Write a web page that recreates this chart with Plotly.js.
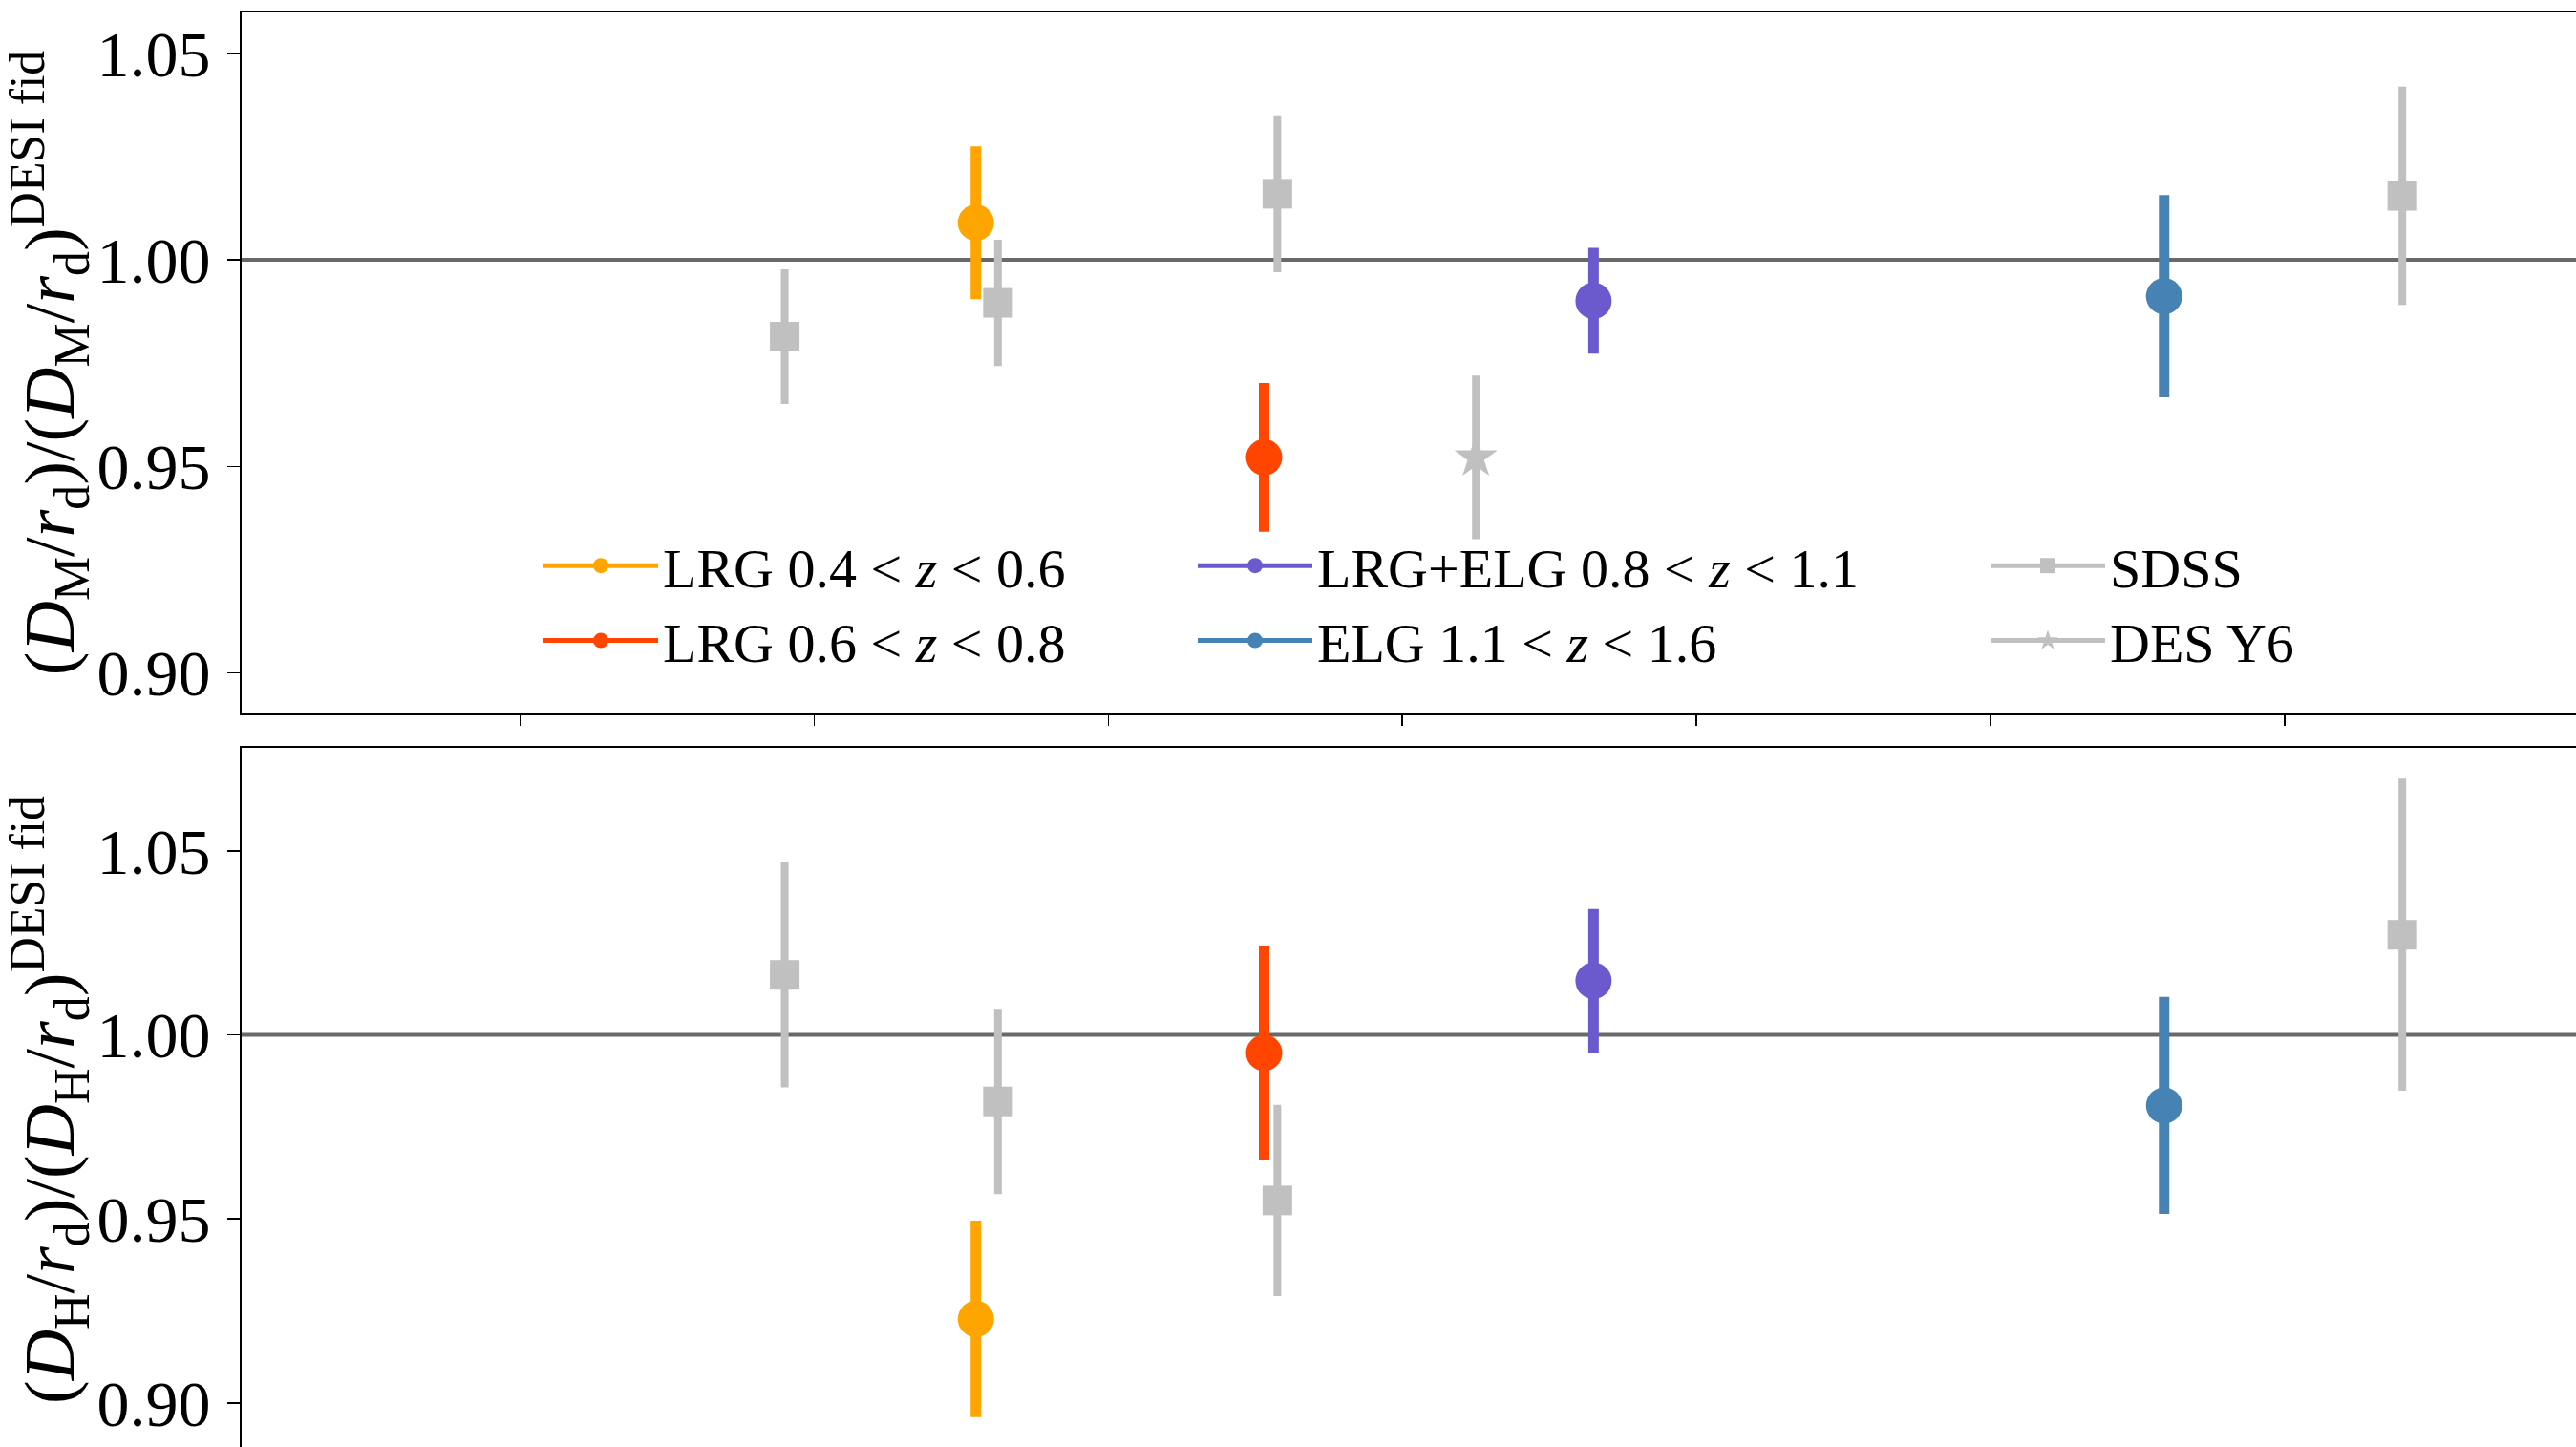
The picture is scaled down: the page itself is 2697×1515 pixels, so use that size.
<!DOCTYPE html>
<html>
<head>
<meta charset="utf-8">
<script src="https://cdn.plot.ly/plotly-3.0.1.min.js"></script>
<style>
html, body { margin: 0; padding: 0; overflow: hidden; background: #ffffff; }
#chart { width: 2697px; height: 1560px; }
</style>
</head>
<body>
<div id="chart"></div>
<script>
// ---------------- data ----------------
const desiNames  = ['LRG 0.4 &lt; <i>z</i> &lt; 0.6', 'LRG 0.6 &lt; <i>z</i> &lt; 0.8',
                    'LRG+ELG 0.8 &lt; <i>z</i> &lt; 1.1', 'ELG 1.1 &lt; <i>z</i> &lt; 1.6'];
const desiColors = ['#FFA500', '#FF4500', '#6A5ACD', '#4682B4'];
const desiZ      = [0.510, 0.706, 0.930, 1.318];
const desiDM     = [1.0090, 0.9522, 0.9901, 0.9912];
const desiDMerr  = [0.0185, 0.0180, 0.0128, 0.0245];
const desiDH     = [0.9228, 0.9951, 1.0147, 0.9808];
const desiDHerr  = [0.0267, 0.0292, 0.0195, 0.0295];

const sdssName   = 'SDSS';
const sdssZ      = [0.380, 0.525, 0.715, 1.480];
const sdssDM     = [0.9814, 0.9896, 1.0160, 1.0155];
const sdssDMerr  = [0.0163, 0.0153, 0.0190, 0.0264];
const sdssDH     = [1.0163, 0.9819, 0.9550, 1.0272];
const sdssDHerr  = [0.0306, 0.0252, 0.0260, 0.0424];

const desName    = 'DES Y6';
const desZ       = [0.850];
const desDM      = [0.9522];
const desDMerr   = [0.0198];

const xTicks     = [0.2, 0.4, 0.6, 0.8, 1.0, 1.2, 1.4];
const yTicks     = [0.90, 0.95, 1.00, 1.05];
const yTickText  = ['0.90', '0.95', '1.00', '1.05'];
const grey       = '#C0C0C0';

// ---------------- geometry (pixels) ----------------
const W = 2697, H = 1560;
const L = 253, T = 13, B = 40, R = 0;
const plotW = W - L - R, plotH = H - T - B;
const pyTop = (py) => (H - B - py) / plotH;     // pixel y -> paper y
const pxX = (px) => (px - L) / plotW;           // pixel x -> paper x

const FONT = 'Liberation Serif, Times New Roman, serif';

const traces = [];
// DESI tracers
desiNames.forEach((name, i) => {
  traces.push({
    x: [desiZ[i]], y: [desiDM[i]], xaxis: 'x', yaxis: 'y',
    type: 'scatter', mode: 'markers', showlegend: false,
    marker: { color: desiColors[i], size: 38, symbol: 'circle', line: { width: 0 } },
    error_y: { type: 'data', array: [desiDMerr[i]], visible: true, color: desiColors[i], thickness: 11, width: 0 }
  });
  traces.push({
    x: [desiZ[i]], y: [desiDH[i]], xaxis: 'x2', yaxis: 'y2',
    type: 'scatter', mode: 'markers', showlegend: false,
    marker: { color: desiColors[i], size: 38, symbol: 'circle', line: { width: 0 } },
    error_y: { type: 'data', array: [desiDHerr[i]], visible: true, color: desiColors[i], thickness: 11, width: 0 }
  });
});
// SDSS
traces.push({
  x: sdssZ, y: sdssDM, xaxis: 'x', yaxis: 'y', type: 'scatter', mode: 'markers', showlegend: false,
  marker: { color: grey, size: 31, symbol: 'square', line: { width: 0 } },
  error_y: { type: 'data', array: sdssDMerr, visible: true, color: grey, thickness: 8, width: 0 }
});
traces.push({
  x: sdssZ, y: sdssDH, xaxis: 'x2', yaxis: 'y2', type: 'scatter', mode: 'markers', showlegend: false,
  marker: { color: grey, size: 31, symbol: 'square', line: { width: 0 } },
  error_y: { type: 'data', array: sdssDHerr, visible: true, color: grey, thickness: 8, width: 0 }
});
// DES Y6
traces.push({
  x: desZ, y: desDM, xaxis: 'x', yaxis: 'y', type: 'scatter', mode: 'markers', showlegend: false,
  marker: { color: grey, size: 34, symbol: 'star', line: { width: 0 } },
  error_y: { type: 'data', array: desDMerr, visible: true, color: grey, thickness: 8, width: 0 }
});

// Legend entries (one per series, arranged as three columns)
const legendCols = [
  [[desiNames[0], desiColors[0], 'circle'], [desiNames[1], desiColors[1], 'circle']],
  [[desiNames[2], desiColors[2], 'circle'], [desiNames[3], desiColors[3], 'circle']],
  [[sdssName, grey, 'square'], [desName, grey, 'star']]
];
const legendIds = ['legend', 'legend2', 'legend3'];
legendCols.forEach((col, c) => {
  col.forEach(([name, color, sym]) => {
    traces.push({
      x: [null], y: [null], xaxis: 'x', yaxis: 'y', type: 'scatter', mode: 'lines+markers',
      name: name, legend: legendIds[c],
      line: { color: color, width: 5 },
      marker: { color: color, size: 16, symbol: sym, line: { width: 0 } }
    });
  });
});

const handleStarts = [569, 1254, 2084];
const legendTop = 548;
const legendBase = {
  bgcolor: 'rgba(0,0,0,0)', borderwidth: 0, font: { family: FONT, size: 58, color: '#000' },
  xanchor: 'left', yanchor: 'top', tracegroupgap: 0, itemwidth: 120, orientation: 'v'
};
function legendAt(c) {
  return Object.assign({}, legendBase, { x: pxX(handleStarts[c] - 5), y: pyTop(legendTop) });
}

const yTitleFont = { family: FONT, size: 74, color: '#000' };
const axisCommon = {
  showline: true, linecolor: '#000', linewidth: 2, showgrid: false, zeroline: false,
  ticks: 'outside', tickcolor: '#000', tickwidth: 1.5, ticklen: 13,
  tickfont: { family: FONT, size: 68, color: '#000' }
};

const layout = {
  width: W, height: H,
  margin: { l: L, r: R, t: T, b: B, pad: 0 },
  paper_bgcolor: '#ffffff', plot_bgcolor: '#ffffff',
  font: { family: FONT, color: '#000' },
  showlegend: true,
  legend: legendAt(0), legend2: legendAt(1), legend3: legendAt(2),
  xaxis: Object.assign({}, axisCommon, {
    domain: [0, 1], anchor: 'y', range: [0.0107, 1.5981], mirror: true,
    tickvals: xTicks, showticklabels: false, ticklen: 11
  }),
  xaxis2: Object.assign({}, axisCommon, {
    domain: [0, 1], anchor: 'y2', range: [0.0107, 1.5981], mirror: true, matches: 'x',
    tickvals: xTicks, showticklabels: false, ticklen: 11
  }),
  yaxis: Object.assign({}, axisCommon, {
    domain: [pyTop(747), 1], anchor: 'x', range: [0.8902, 1.0599], mirror: false,
    tickvals: yTicks, ticktext: yTickText, ticklabelstandoff: 4,
    title: { text: '(<i>D</i><sub>M</sub>/<i>r</i><sub>d</sub>)/(<i>D</i><sub>M</sub>/<i>r</i><sub>d</sub>)<sup>DESI fid</sup>',
             font: yTitleFont, standoff: 8 }
  }),
  yaxis2: Object.assign({}, axisCommon, {
    domain: [0, pyTop(783)], anchor: 'x2', range: [0.8867, 1.078], mirror: false,
    tickvals: yTicks, ticktext: yTickText, ticklabelstandoff: 4,
    title: { text: '(<i>D</i><sub>H</sub>/<i>r</i><sub>d</sub>)/(<i>D</i><sub>H</sub>/<i>r</i><sub>d</sub>)<sup>DESI fid</sup>',
             font: yTitleFont, standoff: 8 }
  }),
  shapes: [
    { type: 'line', xref: 'x domain', yref: 'y', x0: 0, x1: 1, y0: 1, y1: 1,
      line: { color: '#696969', width: 4 }, layer: 'below' },
    { type: 'line', xref: 'x2 domain', yref: 'y2', x0: 0, x1: 1, y0: 1, y1: 1,
      line: { color: '#696969', width: 4 }, layer: 'below' }
  ]
};

Plotly.newPlot('chart', traces, layout, { staticPlot: true, displayModeBar: false });
</script>
</body>
</html>
